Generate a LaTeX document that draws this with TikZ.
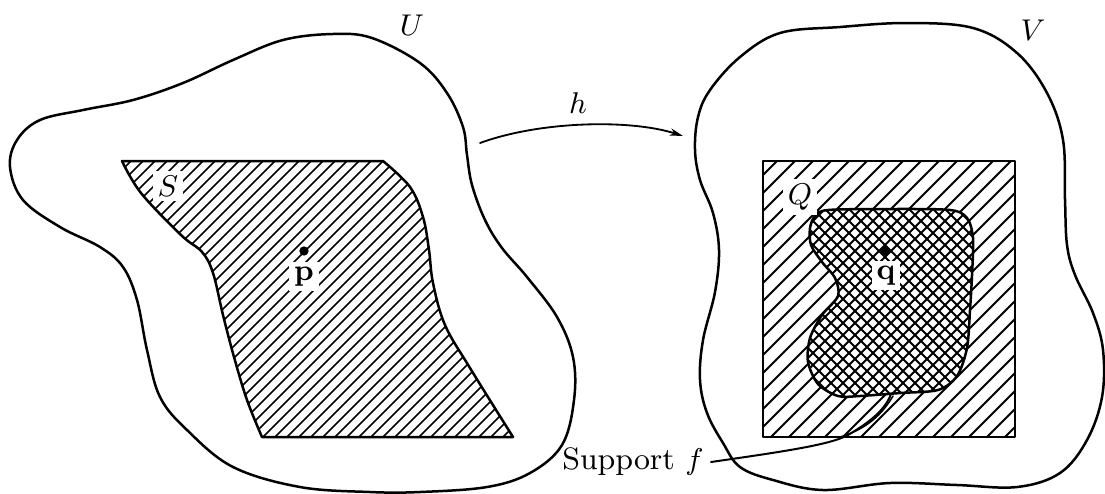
\documentclass[tikz,border=0pt]{standalone}
\usetikzlibrary{arrows.meta}
\begin{document}
\begin{tikzpicture}[x=0.3pt,y=-0.3pt, line join=round, line cap=round,
 outline/.style={line width=0.75pt},
 sqline/.style={line width=0.85pt},
 hatchS/.style={line width=0.5pt},
 hatchQ/.style={line width=0.6pt},
 hatchX/.style={line width=0.55pt},
 lbl/.style={font=\fontsize{9.3}{11}\selectfont, inner sep=1pt},
 wlbl/.style={lbl, fill=white, inner sep=1.5pt},
 dotstyle/.style={circle, fill=black, inner sep=0pt, minimum size=2.8pt}]
\useasboundingbox (0,0) rectangle (1105,493);

\def\Upath{plot[smooth cycle, tension=0.6] coordinates {(333,34) (372,38) (420,63) (447,93) (463,127) (467,155) (472,185) (485,220) (502,248) (527,277) (557,317) (573,357) (574,400) (562,445) (530,473) (487,487) (420,492) (370,492) (300,487) (233,467) (187,430) (160,397) (147,350) (137,300) (123,267) (100,247) (60,227) (23,200) (10,167) (17,140) (40,120) (83,110) (133,100) (183,83) (233,60) (283,40)}}

\def\Vpath{plot[smooth cycle, tension=0.6] coordinates {(780,33) (840,27) (907,23) (973,28) (1017,53) (1047,93) (1063,140) (1065,200) (1067,245) (1075,275) (1093,313) (1103,350) (1102,397) (1087,440) (1060,473) (1017,487) (957,485) (890,483) (823,490) (773,480) (740,467) (723,443) (707,413) (700,380) (703,340) (715,292) (719,250) (713,213) (700,180) (695,150) (698,117) (710,90) (740,57)}}

\def\Spath{(122,161) -- (383,161) -- plot[smooth, tension=0.6] coordinates {(383,161) (410,187) (423,217) (429,250) (433,283) (445,325) (470,368) (513,437)} -- (262,437) -- plot[smooth, tension=0.6] coordinates {(262,437) (247,400) (234,357) (223,315) (213,273) (202,252) (181,235) (141,193) (122,161)} -- cycle}

\def\Qpath{(763,161) rectangle (1015,437)}

\def\Bpath{plot[smooth cycle, tension=0.5] coordinates {(828,210) (890,209) (950,210) (967,218) (973,238) (972,275) (970,310) (967,348) (957,376) (938,390) (900,393) (860,396) (838,396) (818,384) (808,362) (810,338) (822,315) (838,296) (835,278) (822,262) (811,245) (810,228) (815,216)}}

% U and S
\draw[outline] \Upath;
\begin{scope}
 \clip \Spath;
 \foreach \c in {280,292,...,960} \draw[hatchS] (\c,0) -- (\c-600,600);
\end{scope}
\node[wlbl] (nS) at (168,186) {$S$};
\node[dotstyle] (dotp) at (304,251) {};
\node[wlbl, anchor=north] (np) at (304,261) {$\mathbf{p}$};
\draw[outline] \Spath;
\node[lbl] (nU) at (412,25) {$U$};

% V, Q and support
\draw[outline] \Vpath;
\node[lbl] (nV) at (1033,30) {$V$};
\begin{scope}
 \clip \Qpath;
 \foreach \c in {920,938,...,1460} \draw[hatchQ] (\c,0) -- (\c-600,600);
\end{scope}
\fill[white] \Bpath;
\begin{scope}
 \clip \Bpath;
 \foreach \c in {1010,1022,...,1380} \draw[hatchX] (\c,0) -- (\c-600,600);
 \foreach \c in {400,412,...,770} \draw[hatchX] (\c,0) -- (\c+600,600);
\end{scope}
\draw[outline] \Bpath;
\draw[sqline] \Qpath;
\node[wlbl] (nQ) at (800,197) {$Q$};
\node[dotstyle] (dotq) at (885,251) {};
\node[wlbl, anchor=north] (nq) at (886,260) {$\mathbf{q}$};

% arrow h
\coordinate (hs) at (480,143);
\coordinate (he) at (683,136);
\draw[line width=0.55pt, -{Stealth[length=4pt,width=2.2pt]}] (hs) .. controls (540,121) and (630,119) .. (he);
\node[lbl] (nh) at (578,103) {$h$};

% support label and leader
\node[lbl] (sup) at (633,462) {Support $f$};
\coordinate (supend) at (891,394);
\draw[line width=0.6pt] ([xshift=1pt]sup.east) .. controls (780,452) and (830,445) .. (848,435) .. controls (870,422) and (885,410) .. (supend);
\draw[line width=0.45pt] (840,437) .. controls (863,430) and (880,418) .. (893,396);
\end{tikzpicture}
\end{document}
